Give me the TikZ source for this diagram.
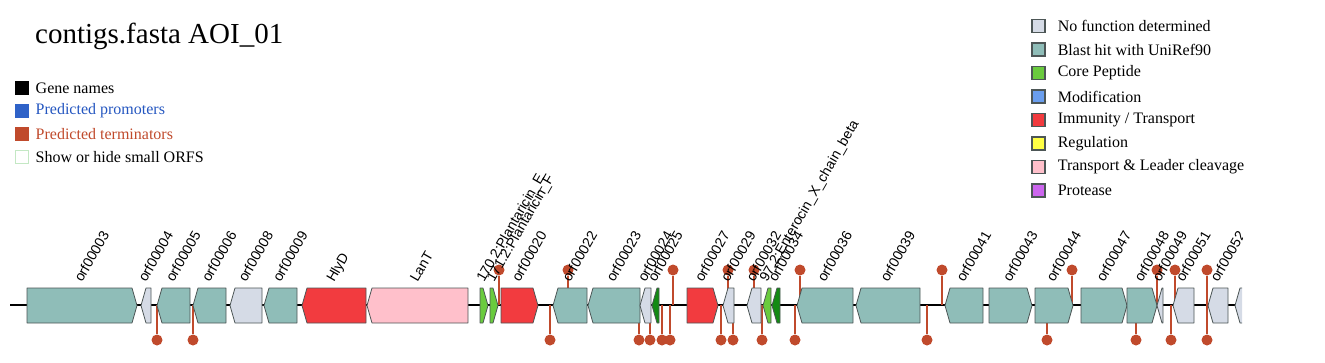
\documentclass[tikz,border=0pt]{standalone}
\usepackage{fontspec}
\setmainfont{Liberation Serif}
\newfontfamily\genefont{Liberation Sans}
\usepackage{xcolor}
\definecolor{nofunc}   {HTML}{D5DBE6}
\definecolor{blasthit} {HTML}{8FBDB8}
\definecolor{corepep}  {HTML}{6ACB3E}
\definecolor{darkpep}  {HTML}{138A13}
\definecolor{modif}    {HTML}{6A9EEE}
\definecolor{immun}    {HTML}{F23B3F}
\definecolor{regul}    {HTML}{FFFF44}
\definecolor{leadercut}{HTML}{FFC0CB}
\definecolor{protease} {HTML}{CC66EE}
\definecolor{geneedge} {HTML}{4D5656}
\definecolor{termcol}  {HTML}{C04A2C}
\definecolor{promcol}  {HTML}{2F62C8}
\definecolor{promtext} {HTML}{2456C0}
\definecolor{smallorf} {HTML}{C4E8C4}
\usetikzlibrary{positioning}

\tikzset{
    genebox/.style={draw=geneedge, line width=0.8pt, line join=round},
    termstem/.style={draw=termcol, line width=1.8pt},
    termhead/.style={circle, fill=termcol, minimum size=11pt, inner sep=0pt},
    genelabel/.style={font=\genefont\fontsize{14}{16}\selectfont, rotate=60,
        anchor=base west, inner sep=0pt},
    keybox/.style={draw=geneedge, line width=1.2pt, minimum size=13pt, inner sep=0pt},
    keytext/.style={font=\fontsize{16}{18}\selectfont, anchor=west, inner sep=0pt},
}

\begin{document}
\begin{tikzpicture}[x=1pt, y=-1pt]
    \useasboundingbox (0,0) rectangle (1325,362);
    % Title.
    \node[font=\fontsize{29}{32}\selectfont, anchor=base west, inner sep=0pt] (title)
        at (35,43) {contigs.fasta AOI\_01};
    % Left key: track features.
    \foreach \fc/\dc/\tc/\txt [count=\i] in {black/black/black/Gene names,
            promcol/promcol/promtext/Predicted promoters,
            termcol/termcol/termcol/Predicted terminators,
            white/smallorf/black/Show or hide small ORFS} {
        \node[minimum size=13pt, inner sep=0pt, fill=\fc, draw=\dc, line width=1pt]
            (lk\i) at (21.5, 65+23*\i) {};
        \node[keytext, text=\tc, right=7pt of lk\i] (lt\i) {\txt};
    }
    % Right key: gene functions.
    \foreach \fc/\txt [count=\i] in {nofunc/No function determined,
            blasthit/Blast hit with UniRef90, corepep/Core Peptide,
            modif/Modification, immun/{Immunity / Transport}, regul/Regulation,
            leadercut/{Transport \& Leader cleavage}, protease/Protease} {
        \node[keybox, fill=\fc] (rk\i) at (1038.5, 2.5+23.5*\i) {};
        \node[keytext, right=12pt of rk\i] (rt\i) {\txt};
    }
    \begin{scope}
        \clip (0,0) rectangle (1242,362);
        % Backbone of the contig.
        \coordinate (trackL) at (10,305);
        \coordinate (trackR) at (1242,305);
        \draw[line width=2pt] (trackL) -- (trackR);
        % Terminators below the track.
        \foreach \tx [count=\i] in {157,193,550,639,650,662,670,721,733,762,795,927,1047,1136,1171,1207} {
            \coordinate (bb\i) at (\tx,305);
            \node[termhead] (bt\i) at (\tx,340) {};
            \draw[termstem] (bb\i) -- (bt\i);
        }
        % Terminators above the track.
        \foreach \tx [count=\i] in {499,568,673,728,754,800,942,1072,1157,1175,1207} {
            \coordinate (ab\i) at (\tx,305);
            \node[termhead] (at\i) at (\tx,270) {};
            \draw[termstem] (ab\i) -- (at\i);
        }
        % Genes: start/end/strand/colour/name, strand 1 = forward.
        \foreach \gs/\ge/\gd/\gc/\gl [count=\i] in {
                27/137/1/blasthit/orf00003, 141/151/0/nofunc/orf00004,
                157/190/0/blasthit/orf00005, 193/226/0/blasthit/orf00006,
                230/262/0/nofunc/orf00008, 264/297/0/blasthit/orf00009,
                302/366/0/immun/HlyD, 367/468/0/leadercut/LanT,
                480/488/1/corepep/170.2:Plantaricin\_E, 490/498/1/corepep/171.2:Plantaricin\_F,
                501/538/1/immun/orf00020, 553/587/0/blasthit/orf00022,
                588/640/0/blasthit/orf00023, 640/651/0/nofunc/orf00024,
                652/659/0/darkpep/orf00025, 687/718/1/immun/orf00027,
                723/734/0/nofunc/orf00029, 747/761/0/nofunc/orf00032,
                763/771/0/corepep/97.2:Enterocin\_X\_chain\_beta, 772/780/0/darkpep/orf00034,
                797/853/0/blasthit/orf00036, 856/920/0/blasthit/orf00039,
                945/983/0/blasthit/orf00041, 989/1032/1/blasthit/orf00043,
                1035/1073/1/blasthit/orf00044, 1081/1127/1/blasthit/orf00047,
                1127/1157/1/blasthit/orf00048, 1157/1163/0/nofunc/orf00049,
                1173/1194/0/nofunc/orf00051, 1208/1228/0/nofunc/orf00052,
                1235/1262/0/nofunc/orf00053} {
            \pgfmathsetmacro{\gt}{min(5,\ge-\gs)}
            \ifnum\gd=1
                \draw[genebox, fill=\gc] (\gs,288) -- (\ge-\gt,288) -- (\ge,305.5)
                    -- (\ge-\gt,323) -- (\gs,323) -- cycle;
            \else
                \draw[genebox, fill=\gc] (\gs,305.5) -- (\gs+\gt,288) -- (\ge,288)
                    -- (\ge,323) -- (\gs+\gt,323) -- cycle;
            \fi
            \node[genelabel] (gl\i) at ({(\gs+\ge)/2}, 283) {\gl};
        }
    \end{scope}
\end{tikzpicture}
\end{document}
